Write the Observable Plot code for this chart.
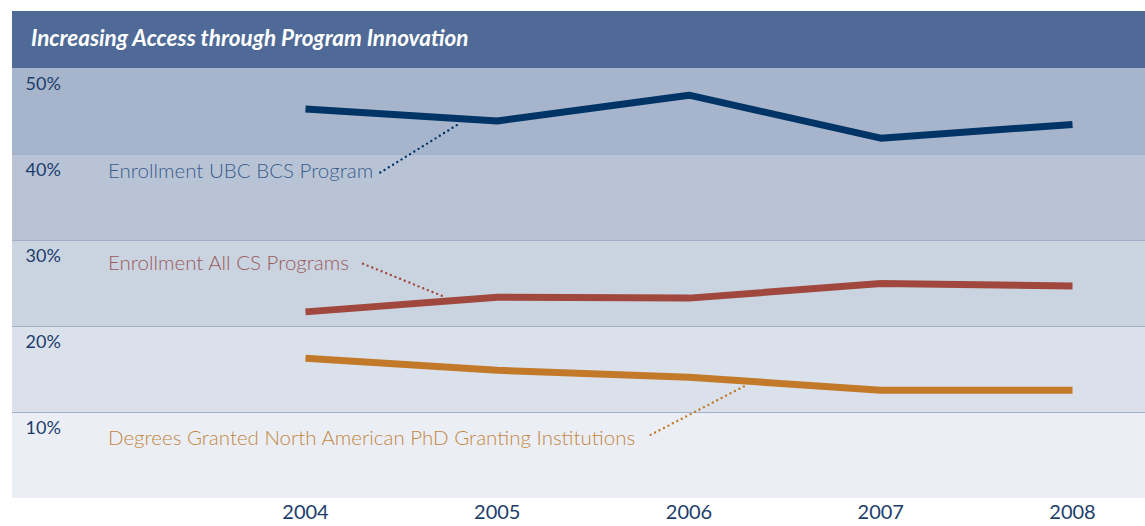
<!DOCTYPE html>
<html>
<head>
<meta charset="utf-8">
<script src="https://cdn.jsdelivr.net/npm/d3@7"></script>
<script src="https://cdn.jsdelivr.net/npm/@observablehq/plot@0.6"></script>
<style>
  html, body { margin: 0; padding: 0; background: #ffffff; }
  #wrap { width: 1145px; }
  .title {
    margin: 11px 0 0 12px;
    height: 57px;
    background: #4f6a97;
    color: #ffffff;
    font-family: Lato, "Open Sans", sans-serif;
    font-style: italic;
    font-weight: 700;
    font-size: 22.5px;
    line-height: 53px;
    padding-left: 19px;
    box-sizing: border-box;
  }
  #chart svg { display: block; }
</style>
</head>
<body>
<div id="wrap">
  <div class="title">Increasing Access through Program Innovation</div>
  <div id="chart"></div>
</div>
<script>
// ---- data ----
const years = [2004, 2005, 2006, 2007, 2008];
const ubcBcs = [45.3, 43.9, 46.9, 41.9, 43.5];        // Enrollment UBC BCS Program (%)
const allCs = [21.7, 23.4, 23.3, 25.0, 24.7];         // Enrollment All CS Programs (%)
const phdDegrees = [16.3, 14.9, 14.1, 12.6, 12.6];    // Degrees Granted N. American PhD Institutions (%)
const yTicks = [50, 40, 30, 20, 10];
const seriesNames = [
  "Enrollment UBC BCS Program",
  "Enrollment All CS Programs",
  "Degrees Granted North American PhD Granting Institutions"
];
// label anchor (year, %) and leader-line endpoints in data units
const labelPos = [[2002.97, 38.0], [2002.97, 27.3], [2002.97, 7.0]];
const leaders = [
  [[2004.39, 37.9], [2004.81, 43.7]],
  [[2004.30, 27.3], [2004.73, 23.4]],
  [[2005.80, 7.4], [2006.30, 13.2]]
];

// ---- styles ----
const lineColors = ["#003466", "#a0483e", "#c27a2a"];
const labelColors = ["#3a5c8b", "#9a5a5c", "#c4863f"];
const bandColors = ["#a6b5cb", "#b8c4d6", "#cad4e0", "#dae1ea", "#ebeff5"];
const font = "Lato, 'Open Sans', sans-serif";

const seriesVals = [ubcBcs, allCs, phdDegrees];
const lineData = seriesVals.flatMap((vals, s) => years.map((yr, i) => ({s, year: yr, v: vals[i]})));
const leaderData = leaders.flatMap((pts, s) => pts.map(p => ({s, year: p[0], v: p[1]})));
const labelData = seriesNames.map((name, s) => ({s, name, year: labelPos[s][0], v: labelPos[s][1]}));

const chart = Plot.plot({
  width: 1145,
  height: 458,
  marginTop: 0,
  marginBottom: 28,
  marginLeft: 12,
  marginRight: 0,
  style: {fontFamily: font, background: "transparent"},
  x: {domain: [2004, 2008], range: [305, 1072], axis: null},
  y: {domain: [0, 50], axis: null},
  color: {type: "identity"},
  marks: [
    Plot.rect(yTicks, {y1: d => d - 10, y2: d => d, fill: (d, i) => bandColors[i]}),
    Plot.ruleY([40, 30, 20, 10], {stroke: "#9fb0c8", strokeWidth: 1}),
    Plot.text(yTicks, {y: d => d, text: d => d + "%", frameAnchor: "left", dx: 13, dy: 15.5,
      textAnchor: "start", fill: "#1c3d6c", fontSize: 18}),
    Plot.text(years, {x: d => d, text: d => String(d), frameAnchor: "bottom", dy: 20,
      fill: "#1c3d6c", fontSize: 20}),
    Plot.line(leaderData, {x: "year", y: "v", z: "s", stroke: d => lineColors[d.s],
      strokeWidth: 2.4, strokeDasharray: "0 5", strokeLinecap: "round"}),
    Plot.line(lineData, {x: "year", y: "v", z: "s", stroke: d => lineColors[d.s],
      strokeWidth: 7, strokeLinecap: "butt", strokeLinejoin: "miter"}),
    Plot.text(labelData, {x: "year", y: "v", text: "name", textAnchor: "start",
      fill: d => labelColors[d.s], fontSize: 20.5, fontWeight: 300})
  ]
});
document.getElementById("chart").appendChild(chart);
</script>
</body>
</html>
